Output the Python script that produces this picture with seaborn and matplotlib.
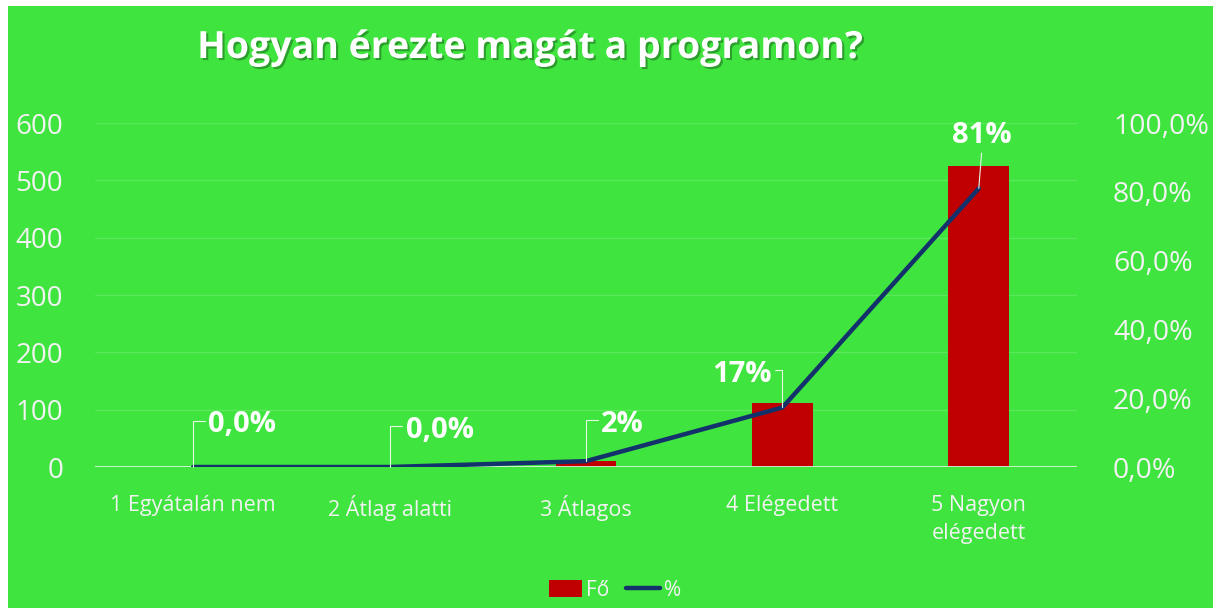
import numpy as np
import seaborn as sns
import matplotlib.pyplot as plt
import matplotlib.patheffects as pe
from matplotlib.patches import Rectangle, Patch
from matplotlib.lines import Line2D
from matplotlib.ticker import FuncFormatter

# chart data
categories = ['1 Egyátalán nem', '2 Átlag alatti', '3 Átlagos', '4 Elégedett', '5 Nagyon\nelégedett']
fo = [0, 0, 11, 112, 525]
pct = [0.0, 0.0, 0.017, 0.173, 0.81]
pct_labels = ['0,0%', '0,0%', '2%', '17%', '81%']

green = '#3FE43F'
red = '#C00000'
navy = '#13316B'
txt = '#F2F2F2'

sns.set_theme(style='white')
plt.rcParams['font.family'] = ['Open Sans', 'DejaVu Sans']

fig = plt.figure(figsize=(12.23, 6.08), dpi=100, facecolor='white')
# green panel with thin white border
fig.patches.append(Rectangle((8 / 1223, 0), 1205 / 1223, 602 / 608, transform=fig.transFigure,
                             facecolor=green, edgecolor='none', zorder=-10))

ax = fig.add_axes([95 / 1223, 1 - 467 / 608, 982 / 1223, 344 / 608])
ax.set_facecolor('none')
pos = np.arange(len(categories))
sns.barplot(x=categories, y=fo, ax=ax, color=red, saturation=1, width=0.31,
            edgecolor='none', linewidth=0, zorder=2)
ax.set_xlim(-0.5, len(categories) - 0.5)
ax.set_ylim(0, 600)
ax.set_yticks(range(0, 601, 100))
for y in range(100, 601, 100):
    ax.axhline(y, color='#5AE95A', lw=1, zorder=0)
ax.axhline(0, color='#D8F5D8', lw=1.3, zorder=3)
for s in ax.spines.values():
    s.set_visible(False)
ax.tick_params(axis='y', length=0, pad=23, labelsize=20, labelcolor=txt)
ax.tick_params(axis='x', length=0, pad=20, labelsize=15.5, labelcolor=txt)
for t in ax.get_xticklabels():
    t.set_linespacing(1.45)
ax.set_xlabel('')
ax.set_ylabel('')

ax2 = ax.twinx()
sns.lineplot(x=pos, y=pct, ax=ax2, color=navy, lw=3.2, zorder=4, legend=False)
ax2.set_ylim(0, 1.0)
ax2.set_yticks(np.arange(0, 1.01, 0.2))
ax2.yaxis.set_major_formatter(FuncFormatter(lambda v, p: f'{v * 100:.1f}%'.replace('.', ',')))
ax2.tick_params(axis='y', length=0, pad=26, labelsize=20.5, labelcolor=txt)
ax2.set_ylabel('')
for s in ax2.spines.values():
    s.set_visible(False)

# data labels with leader lines
offsets = [(15, 42, 'left', (0, 0.65)), (16, 37, 'left', (0, 0.65)), (15, 37, 'left', (0, 0.65)),
           (-11, 33, 'right', (1, 0.65)), (3, 53, 'center', (0.5, 0.0))]
for i, (lab, (dx, dy, ha, rp)) in enumerate(zip(pct_labels, offsets)):
    if ha == 'center':
        cs = 'arc3'
    else:
        cs = 'angle,angleA=0,angleB=90,rad=0'
    ax2.annotate(lab, xy=(pos[i], pct[i]), xytext=(dx, dy), textcoords='offset pixels',
                 ha=ha, va='center', fontsize=21, fontweight='bold', color='white', zorder=6,
                 arrowprops=dict(arrowstyle='-', color='#E6F7E6', lw=0.8, shrinkA=0, shrinkB=0,
                                 connectionstyle=cs, relpos=rp))

fig.text(530 / 1223, 1 - 48 / 608, 'Hogyan érezte magát a programon?', ha='center', va='center',
         fontsize=27, fontweight='bold', color='white',
         path_effects=[pe.withSimplePatchShadow(offset=(1.5, -1.5), shadow_rgbFace='#1a5a1a', alpha=0.5)])

# legend
handles = [Patch(facecolor=red, edgecolor='none'), Line2D([0], [0], color=navy, lw=3.2)]
leg = fig.legend(handles, ['Fő', '%'], loc='center', bbox_to_anchor=(615 / 1223, 1 - 590 / 608),
                 ncol=2, frameon=False, fontsize=15, handlelength=1.6, handleheight=0.9,
                 handletextpad=0.2, columnspacing=0.8)
for t in leg.get_texts():
    t.set_color(txt)

fig.savefig('out.png', dpi=100, facecolor=fig.get_facecolor())
